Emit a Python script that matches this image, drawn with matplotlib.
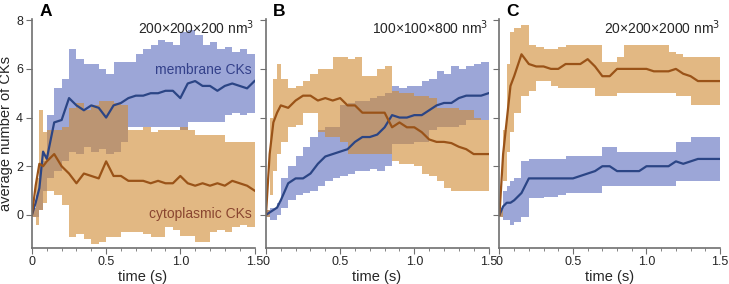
import matplotlib.pyplot as plt
from matplotlib.ticker import MultipleLocator

plt.rcParams['font.family'] = ['Liberation Sans', 'DejaVu Sans']

t = [0, 0.025, 0.05, 0.075, 0.1, 0.15, 0.2, 0.25, 0.3, 0.35, 0.4, 0.45, 0.5,
     0.55, 0.6, 0.65, 0.7, 0.75, 0.8, 0.85, 0.9, 0.95, 1.0, 1.05, 1.1, 1.15,
     1.2, 1.25, 1.3, 1.35, 1.4, 1.45, 1.5]

# panel A: 200x200x200 nm3
a_mem = [0, 0.5, 1.1, 2.6, 2.3, 3.8, 3.9, 4.8, 4.5, 4.3, 4.5, 4.4, 4.0, 4.5, 4.6,
         4.8, 4.9, 4.9, 5.0, 5.0, 5.1, 5.1, 4.8, 5.4, 5.5, 5.3, 5.3, 5.1, 5.3, 5.4,
         5.3, 5.2, 5.5]
a_mem_hi = [0.3, 0.8, 2.0, 2.2, 4.1, 5.2, 5.6, 6.8, 6.4, 6.2, 6.2, 6.0, 5.8, 6.3,
            6.3, 6.3, 6.6, 6.8, 7.0, 7.2, 7.1, 7.0, 7.5, 7.6, 7.4, 7.0, 7.1, 6.8,
            6.9, 6.7, 6.8, 6.6, 6.7]
a_mem_lo = [-0.1, -0.1, 0.2, 1.0, 1.5, 1.8, 2.2, 2.6, 2.5, 2.8, 2.6, 2.7, 2.5, 2.6,
            3.0, 3.6, 3.6, 3.6, 3.6, 3.6, 3.6, 3.6, 3.5, 3.8, 3.8, 3.8, 3.8, 3.8,
            4.1, 4.2, 4.1, 4.2, 4.1]
a_cyt = [0, 1.2, 2.1, 2.0, 2.2, 2.5, 2.0, 1.7, 1.3, 1.7, 1.6, 1.5, 2.2, 1.6, 1.6,
         1.4, 1.4, 1.4, 1.3, 1.4, 1.3, 1.3, 1.6, 1.3, 1.2, 1.3, 1.2, 1.3, 1.2, 1.4,
         1.3, 1.2, 1.0]
a_cyt_hi = [0.3, 1.5, 4.3, 3.4, 3.5, 3.5, 3.6, 4.4, 4.6, 4.3, 4.5, 4.7, 4.7, 4.6,
            4.5, 3.5, 3.5, 3.6, 3.4, 3.5, 3.5, 3.5, 3.6, 3.5, 3.3, 3.3, 3.3, 3.3,
            3.0, 3.0, 3.0, 3.0, 3.0]
a_cyt_lo = [-0.1, -0.4, 0.2, 0.5, 1.0, 0.8, 0.4, -0.9, -0.8, -1.0, -1.2, -1.1,
            -0.9, -0.9, -0.7, -0.7, -0.7, -0.8, -0.9, -0.9, -0.5, -0.6, -0.85,
            -0.85, -1.1, -1.1, -0.7, -0.6, -0.7, -0.5, -0.4, -0.5, -0.6]

# panel B: 100x100x800 nm3
b_mem = [0, 0.1, 0.2, 0.3, 0.6, 1.3, 1.5, 1.5, 1.7, 2.1, 2.4, 2.5, 2.6, 2.7, 3.0,
         3.2, 3.2, 3.3, 3.6, 4.1, 4.0, 4.0, 4.1, 4.1, 4.3, 4.5, 4.6, 4.6, 4.8, 4.9,
         4.9, 4.9, 5.0]
b_mem_hi = [0.2, 0.3, 0.3, 0.5, 1.5, 2.0, 2.4, 2.8, 3.2, 3.5, 3.6, 3.6, 4.5, 4.6,
            4.7, 4.7, 4.8, 4.9, 5.0, 5.3, 5.2, 5.3, 5.3, 5.5, 5.6, 5.9, 5.8, 6.1,
            6.0, 6.1, 6.2, 6.3, 6.3]
b_mem_lo = [-0.1, -0.2, -0.2, 0.0, 0.3, 0.6, 0.8, 0.9, 1.0, 1.2, 1.4, 1.5, 1.6,
            1.7, 1.8, 1.8, 1.9, 1.8, 2.0, 2.9, 2.9, 2.9, 3.0, 3.0, 3.5, 3.6, 3.6,
            3.6, 3.7, 3.9, 3.9, 3.9, 3.9]
b_cyt = [0, 2.5, 3.8, 4.2, 4.5, 4.4, 4.7, 4.9, 4.9, 4.7, 4.8, 4.7, 4.8, 4.5, 4.5,
         4.2, 4.2, 4.2, 4.2, 3.6, 3.8, 3.6, 3.6, 3.4, 3.1, 3.0, 3.0, 2.95, 2.8,
         2.7, 2.5, 2.5, 2.5]
b_cyt_hi = [0.2, 4.0, 5.6, 6.2, 5.6, 5.2, 5.3, 5.5, 5.8, 6.0, 6.0, 6.5, 6.5, 6.4,
            6.5, 5.7, 5.7, 6.0, 6.1, 5.1, 5.0, 5.0, 4.9, 4.9, 4.8, 4.4, 4.4, 4.4,
            4.3, 4.3, 4.0, 3.9, 3.9]
b_cyt_lo = [-0.1, 0.8, 1.8, 2.5, 3.0, 3.6, 3.7, 4.2, 4.2, 3.4, 3.2, 3.2, 3.0, 2.5,
            2.5, 2.5, 2.5, 2.5, 2.5, 2.2, 2.1, 2.1, 2.0, 1.7, 1.6, 1.4, 1.1, 1.0,
            1.0, 1.0, 1.0, 1.0, 1.0]

# panel C: 20x200x2000 nm3
c_mem = [0, 0.35, 0.5, 0.5, 0.6, 0.9, 1.5, 1.5, 1.5, 1.5, 1.5, 1.5, 1.5, 1.6, 1.7,
         1.8, 2.0, 2.0, 1.8, 1.8, 1.8, 1.8, 2.0, 2.0, 2.0, 2.0, 2.2, 2.1, 2.2, 2.3,
         2.3, 2.3, 2.3]
c_mem_hi = [0.2, 1.0, 1.2, 1.4, 1.5, 2.2, 2.3, 2.3, 2.3, 2.3, 2.3, 2.4, 2.4, 2.4,
            2.4, 2.4, 2.8, 2.8, 2.6, 2.6, 2.6, 2.6, 2.6, 2.6, 2.6, 2.6, 3.0, 3.0,
            3.2, 3.2, 3.2, 3.2, 3.2]
c_mem_lo = [-0.1, -0.2, -0.2, -0.4, -0.3, -0.1, 0.7, 0.7, 0.75, 0.75, 0.8, 0.9,
            0.9, 0.9, 0.9, 0.9, 1.2, 1.2, 1.2, 1.2, 1.2, 1.2, 1.2, 1.2, 1.2, 1.2,
            1.4, 1.4, 1.4, 1.4, 1.4, 1.4, 1.4]
c_cyt = [0, 2.5, 3.9, 5.3, 5.7, 6.6, 6.2, 6.1, 6.1, 6.0, 6.0, 6.2, 6.2, 6.2, 6.4,
         6.1, 5.7, 5.7, 6.0, 6.0, 6.0, 6.0, 6.0, 5.9, 5.9, 5.9, 6.0, 5.8, 5.7, 5.5,
         5.5, 5.5, 5.5]
c_cyt_hi = [0.2, 3.5, 6.2, 7.5, 7.7, 7.8, 7.0, 6.9, 6.8, 6.8, 6.9, 7.0, 7.0, 7.0,
            7.0, 7.0, 6.3, 6.3, 6.5, 7.0, 7.0, 7.0, 7.0, 7.0, 7.0, 6.7, 6.6, 6.5,
            6.5, 6.5, 6.5, 6.5, 6.5]
c_cyt_lo = [-0.1, 1.4, 2.6, 3.4, 4.2, 4.9, 5.1, 5.5, 5.5, 5.3, 5.2, 5.2, 5.2, 5.2,
            5.2, 4.9, 4.9, 4.9, 5.0, 5.0, 5.0, 5.0, 5.0, 5.0, 5.0, 5.0, 4.9, 4.9,
            4.5, 4.5, 4.5, 4.5, 4.5]

panels = [
    ("A", "200×200×200 nm$^3$", a_mem, a_mem_lo, a_mem_hi, a_cyt, a_cyt_lo, a_cyt_hi),
    ("B", "100×100×800 nm$^3$", b_mem, b_mem_lo, b_mem_hi, b_cyt, b_cyt_lo, b_cyt_hi),
    ("C", "20×200×2000 nm$^3$", c_mem, c_mem_lo, c_mem_hi, c_cyt, c_cyt_lo, c_cyt_hi),
]

mem_fill = '#5a6bbd'
cyt_fill = '#d08a30'
mem_line = '#2b4585'
cyt_line = '#9a5318'
spine_col = '#707070'
txt_col = '#262626'

fig = plt.figure(figsize=(7.29, 2.84), dpi=100)
lefts = [31.5, 265.5, 499.0]
widths = [223, 223, 221]
W, H = 729.0, 284.0

for i, (tag, size, mem, mem_lo, mem_hi, cyt, cyt_lo, cyt_hi) in enumerate(panels):
    ax = fig.add_axes([lefts[i] / W, 36 / H, widths[i] / W, 229 / H])
    ax.fill_between(t, mem_lo, mem_hi, step='post', color=mem_fill, alpha=0.6, lw=0)
    ax.fill_between(t, cyt_lo, cyt_hi, step='post', color=cyt_fill, alpha=0.6, lw=0)
    ax.plot(t, mem, color=mem_line, lw=1.6)
    ax.plot(t, cyt, color=cyt_line, lw=1.6)

    ax.set_xlim(-0.003, 1.5)
    ax.set_ylim(-1.36, 8.05)
    ax.set_xticks([0, 0.5, 1.0, 1.5])
    ax.set_xticklabels(['0', '0.5', '1.0', '1.5'])
    ax.xaxis.set_minor_locator(MultipleLocator(0.1))
    ax.set_yticks([0, 2, 4, 6, 8])
    if i > 0:
        ax.set_yticklabels([])
    else:
        ax.set_ylabel('average number of CKs', fontsize=10.5, labelpad=2,
                      color=txt_col)
    ax.tick_params(which='both', direction='out', color=spine_col, labelsize=9,
                   pad=2, labelcolor=txt_col)
    ax.tick_params(which='major', length=4)
    ax.tick_params(which='minor', length=2.5)
    for s in ['top', 'right']:
        ax.spines[s].set_visible(False)
    for s in ['left', 'bottom']:
        ax.spines[s].set_color(spine_col)
        ax.spines[s].set_linewidth(1.2)
    ax.set_xlabel('time (s)', fontsize=10.5, labelpad=1, color=txt_col)
    ax.text(1.5, 7.7, size, ha='right', va='center', fontsize=10, color=txt_col)
    ax.text(0.035, 1.0, tag, transform=ax.transAxes, fontsize=12.5,
            fontweight='bold', ha='left', va='bottom')
    ax.patch.set_visible(False)

    if i == 0:
        ax.text(1.48, 5.95, 'membrane CKs', color='#33408a', fontsize=10,
                ha='right', va='center')
        ax.text(1.48, 0.05, 'cytoplasmic CKs', color='#8a4530', fontsize=10,
                ha='right', va='center')

fig.savefig('out.png', dpi=100)
